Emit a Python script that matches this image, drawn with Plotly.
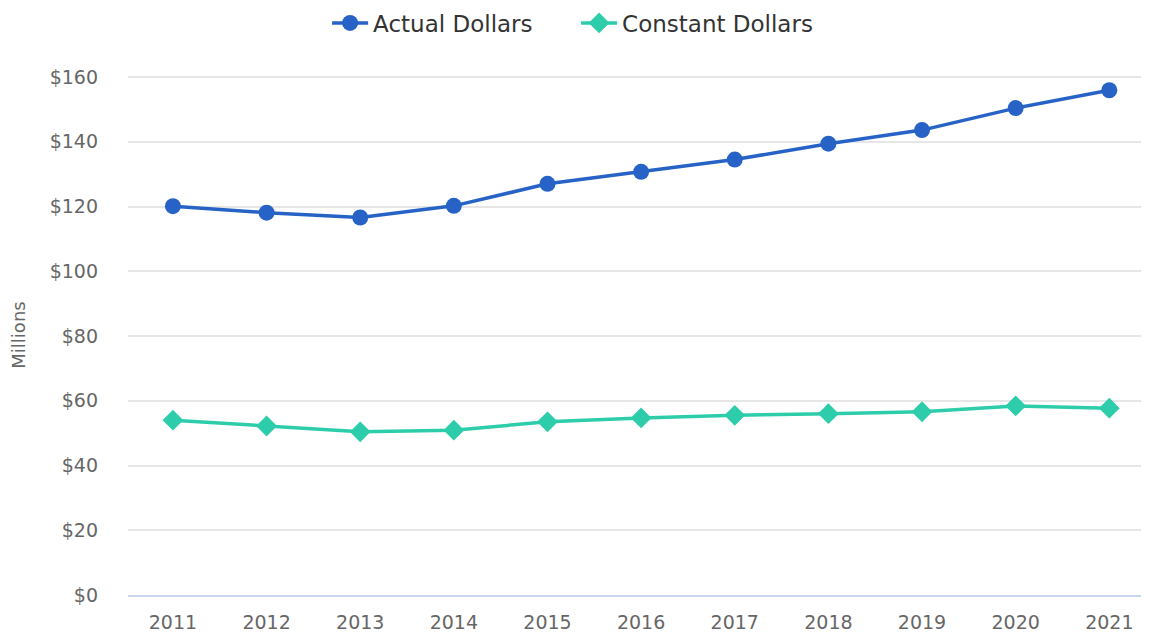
import plotly.graph_objects as go

years = ["2011", "2012", "2013", "2014", "2015", "2016", "2017", "2018", "2019", "2020", "2021"]
actual_dollars = [120.1, 118.1, 116.6, 120.2, 127.0, 130.7, 134.5, 139.4, 143.6, 150.4, 155.9]
constant_dollars = [54.0, 52.2, 50.4, 50.9, 53.5, 54.7, 55.5, 56.0, 56.6, 58.4, 57.7]
y_ticks = [0, 20, 40, 60, 80, 100, 120, 140, 160]
y_tick_labels = ["$0", "$20", "$40", "$60", "$80", "$100", "$120", "$140", "$160"]

BLUE = "#2763c6"
TEAL = "#2dcdab"
FONT = "DejaVu Sans"

fig = go.Figure()
fig.add_trace(go.Scatter(
    x=years, y=actual_dollars, name="Actual Dollars", mode="lines+markers",
    line=dict(color=BLUE, width=3.5),
    marker=dict(symbol="circle", size=16, color=BLUE),
))
fig.add_trace(go.Scatter(
    x=years, y=constant_dollars, name="Constant Dollars", mode="lines+markers",
    line=dict(color=TEAL, width=3.5),
    marker=dict(symbol="diamond", size=16, color=TEAL),
))

# page body has an 8px margin: figure is sized to end at the window edge
fig.update_layout(
    width=1141, height=625,
    margin=dict(l=120, r=0, t=67, b=38, autoexpand=False),
    paper_bgcolor="white", plot_bgcolor="white",
    font=dict(family=FONT, color="#666666", size=19),
    showlegend=True,
    legend=dict(
        orientation="h", x=0.195, xanchor="left", y=1.1, yanchor="middle",
        font=dict(family=FONT, size=23, color="#333333"),
        itemwidth=36, entrywidth=198,
    ),
    hovermode=False,
)
fig.update_xaxes(
    type="category", range=[-0.48, 10.424],
    showgrid=False, showline=True, linecolor="#ccd6eb", linewidth=1.5,
    ticks="", ticklabelstandoff=9,
    tickfont=dict(family=FONT, size=19, color="#666666"),
    fixedrange=True,
)
fig.update_yaxes(
    range=[0, 160.62], tickvals=y_ticks, ticktext=y_tick_labels,
    showgrid=True, gridcolor="#e6e6e6", gridwidth=1.5,
    zeroline=False, showline=False, ticks="", ticklabelstandoff=29,
    tickfont=dict(family=FONT, size=19, color="#666666"),
    title=dict(text="Millions", font=dict(family=FONT, size=18, color="#666666"), standoff=21),
    fixedrange=True,
)

fig.write_html("out.html")
